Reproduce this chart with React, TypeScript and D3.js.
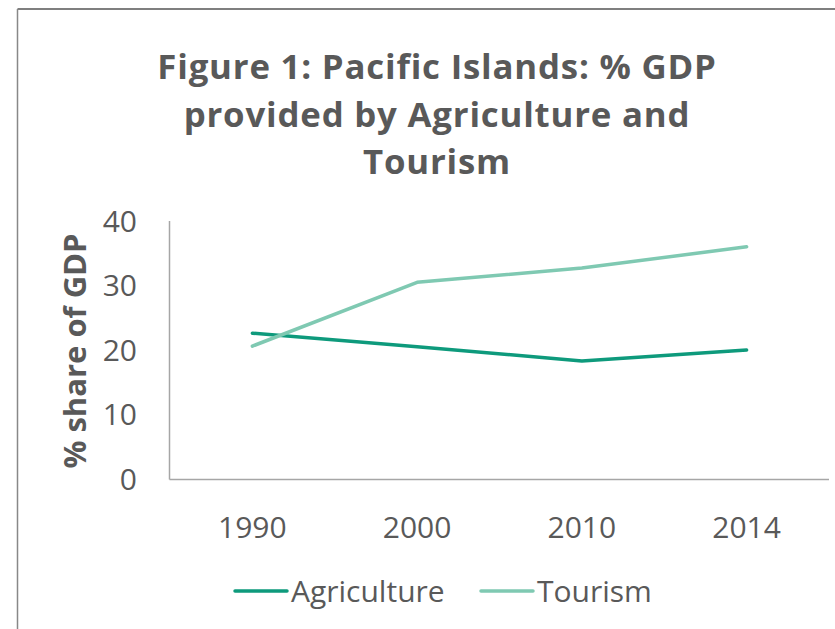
import React from "react";
import * as d3 from "d3";

const years = ["1990", "2000", "2010", "2014"];
const agriculture = [22.6, 20.5, 18.3, 20.0];
const tourism = [20.6, 30.5, 32.7, 36.0];
const yTicks = [0, 10, 20, 30, 40];
const titleLines = ["Figure 1: Pacific Islands: % GDP", "provided by Agriculture and", "Tourism"];
const seriesNames = ["Agriculture", "Tourism"];

const W = 835;
const H = 629;
const FONT = "'Open Sans', 'Noto Sans', sans-serif";
const TEXT = "#595959";
const C_AG = "#0e9a7c";
const C_TO = "#7fc9b2";

export default function App() {
  const x = d3.scaleBand<string>().domain(years).range([170, 829]);
  const y = d3.scaleLinear().domain([0, 40]).range([479, 221]);
  const line = d3
    .line<number>()
    .x((_, i) => (x(years[i]) as number) + x.bandwidth() / 2)
    .y((d) => y(d));

  const series = [
    { name: seriesNames[0], data: agriculture, color: C_AG },
    { name: seriesNames[1], data: tourism, color: C_TO },
  ];

  return (
    <svg
      width={W}
      height={H}
      style={{ position: "absolute", left: 0, top: 0, background: "#fff" }}
      fontFamily={FONT}
    >
      <rect x={0} y={0} width={W} height={H} fill="#fff" />
      {/* frame */}
      <line x1={17.5} y1={9} x2={W} y2={9} stroke="#555" strokeWidth={1.5} />
      <line x1={17.5} y1={9} x2={17.5} y2={H} stroke="#888" strokeWidth={1.5} />

      {/* title */}
      {titleLines.map((t, i) => (
        <text
          key={i}
          x={437}
          y={79 + i * 47.6}
          textAnchor="middle"
          fontSize={34.8}
          fontWeight="bold"
          letterSpacing={0.8}
          fill={TEXT}
        >
          {t}
        </text>
      ))}

      {/* axes */}
      <line x1={169.5} y1={221} x2={169.5} y2={479.5} stroke="#a6a6a6" strokeWidth={1.5} />
      <line x1={169.5} y1={479.5} x2={829} y2={479.5} stroke="#a6a6a6" strokeWidth={1.5} />

      {yTicks.map((t) => (
        <text
          key={t}
          x={137}
          y={y(t)}
          dy="0.36em"
          textAnchor="end"
          fontSize={30}
          fill={TEXT}
        >
          {t}
        </text>
      ))}

      {years.map((yr) => (
        <text
          key={yr}
          x={(x(yr) as number) + x.bandwidth() / 2}
          y={538}
          textAnchor="middle"
          fontSize={30}
          fill={TEXT}
        >
          {yr}
        </text>
      ))}

      <text
        transform={`translate(86,351) rotate(-90)`}
        textAnchor="middle"
        fontSize={31}
        fontWeight="bold"
        fill={TEXT}
      >
        % share of GDP
      </text>

      {series.map((s) => (
        <path
          key={s.name}
          d={line(s.data) as string}
          fill="none"
          stroke={s.color}
          strokeWidth={3.5}
          strokeLinecap="round"
          strokeLinejoin="round"
        />
      ))}

      {/* legend */}
      <line x1={235} y1={591} x2={287} y2={591} stroke={C_AG} strokeWidth={3.5} strokeLinecap="round" />
      <text x={291} y={602} fontSize={30} fill={TEXT}>
        {seriesNames[0]}
      </text>
      <line x1={481} y1={591} x2={533} y2={591} stroke={C_TO} strokeWidth={3.5} strokeLinecap="round" />
      <text x={537} y={602} fontSize={30} fill={TEXT}>
        {seriesNames[1]}
      </text>
    </svg>
  );
}
